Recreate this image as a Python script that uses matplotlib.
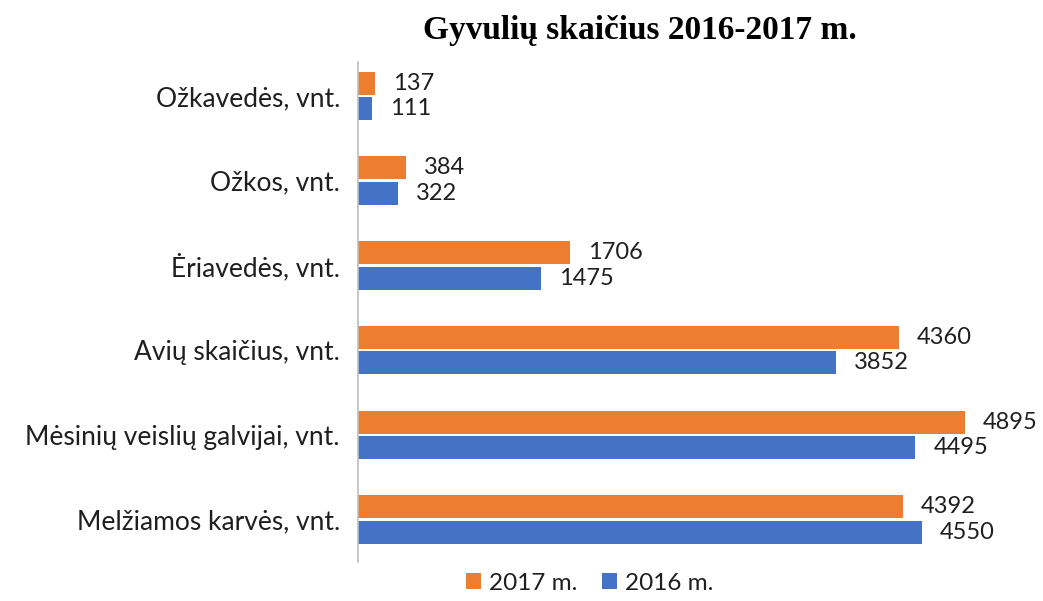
import matplotlib
matplotlib.use("Agg")
import matplotlib.pyplot as plt
import numpy as np

categories = ["Melžiamos karvės, vnt.", "Mėsinių veislių galvijai, vnt.", "Avių skaičius, vnt.",
              "Ėriavedės, vnt.", "Ožkos, vnt.", "Ožkavedės, vnt."]
values_2017 = [4392, 4895, 4360, 1706, 384, 137]
values_2016 = [4550, 4495, 3852, 1475, 322, 111]
series_labels = ["2017 m.", "2016 m."]
title = "Gyvulių skaičius 2016-2017 m."

orange = "#ED7D31"
blue = "#4472C4"
font = ["Lato", "DejaVu Sans"]

fig = plt.figure(figsize=(10.43, 6.01), dpi=100)
ax = fig.add_axes([358/1043, 1-562/601, (1035-358)/1043, 500/601])

y = np.arange(len(categories))
h = 0.27
gap = 0.015
b17 = ax.barh(y + h/2 + gap, values_2017, height=h, color=orange, label=series_labels[0])
b16 = ax.barh(y - h/2 - gap, values_2016, height=h, color=blue, label=series_labels[1])

for bars, vals in ((b17, values_2017), (b16, values_2016)):
    for bar, v in zip(bars, vals):
        ax.annotate(f"{v}", (bar.get_width(), bar.get_y() + bar.get_height()/2),
                    xytext=(13, 0), textcoords="offset points", va="center", ha="left",
                    fontsize=17, family=font, color="#1f1f1f")

ax.set_xlim(0, 5460)
ax.set_ylim(-0.5, 5.4)
ax.set_yticks(y)
ax.set_yticklabels(categories, fontsize=19, family=font, color="#1f1f1f")
ax.tick_params(axis="y", length=0, pad=13)
ax.set_xticks([])
for s in ("top", "right", "bottom"):
    ax.spines[s].set_visible(False)
ax.spines["left"].set_color("#BFBFBF")
ax.spines["left"].set_linewidth(1.2)

fig.text(640/1043, 1-30/601, title, ha="center", va="center", fontsize=24,
         family="Liberation Serif", fontweight="bold")

leg = fig.legend(handles=[b17, b16], labels=series_labels, loc="center",
                 bbox_to_anchor=(590/1043, 1-583/601), ncol=2, frameon=False,
                 prop={"family": font, "size": 17.5}, handlelength=0.6, handleheight=0.6,
                 handletextpad=0.35, columnspacing=1.0)
for t in leg.get_texts():
    t.set_color("#1f1f1f")

fig.savefig("out.png", dpi=100)
